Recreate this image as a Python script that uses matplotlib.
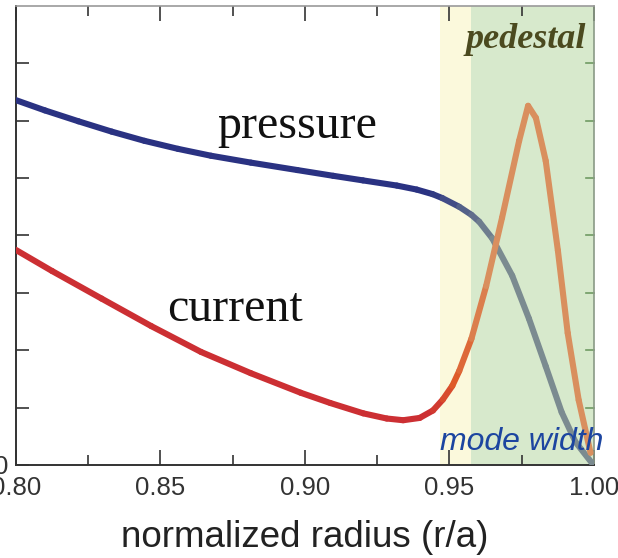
import numpy as np
import matplotlib
matplotlib.use("Agg")
import matplotlib.pyplot as plt
from matplotlib.collections import LineCollection
from matplotlib.colors import to_rgb

# values (y in arbitrary units, 0..8)
pressure_x = [0.8000, 0.8101, 0.8217, 0.8332, 0.8445, 0.8561, 0.8675, 0.8813,
              0.8974, 0.9098, 0.9201, 0.9318, 0.9387, 0.9442, 0.9476, 0.9534,
              0.9576, 0.9603, 0.9648, 0.9717, 0.9775, 0.9833, 0.9888, 0.9936, 0.9995]
pressure_y = [6.36, 6.18, 5.99, 5.81, 5.65, 5.51, 5.39, 5.27,
              5.14, 5.04, 4.96, 4.87, 4.80, 4.72, 4.65, 4.50,
              4.36, 4.24, 3.95, 3.30, 2.55, 1.72, 0.92, 0.40, 0.02]

current_x = [0.8000, 0.8126, 0.8297, 0.8469, 0.8641, 0.8813, 0.8985, 0.9088,
             0.9202, 0.9283, 0.9340, 0.9397, 0.9443, 0.9477, 0.9510, 0.9534,
             0.9576, 0.9627, 0.9682, 0.9741, 0.9772, 0.9799, 0.9833, 0.9875,
             0.9909, 0.9947, 0.9988]
current_y = [3.75, 3.38, 2.90, 2.42, 1.97, 1.60, 1.26, 1.08,
             0.90, 0.81, 0.78, 0.82, 0.95, 1.14, 1.38, 1.64,
             2.20, 3.12, 4.31, 5.65, 6.26, 6.05, 5.30, 3.74,
             2.30, 1.13, 0.21]

xticks = [0.80, 0.85, 0.90, 0.95, 1.00]
xtick_labels = ["0.80", "0.85", "0.90", "0.95", "1.00"]
yticks = [1, 2, 3, 4, 5, 6, 7]

band_yellow = (0.9466, 0.9576)
band_green = (0.9576, 1.0)


def blend(c1, c2, t):
    a, b = np.array(to_rgb(c1)), np.array(to_rgb(c2))
    return tuple(a + (b - a) * min(max(t, 0), 1))


def gradient_line(ax, xs, ys, stops, lw):
    # stops: list of (x, color); colour per segment from its midpoint
    pts = np.column_stack([xs, ys]).reshape(-1, 1, 2)
    segs = np.concatenate([pts[:-1], pts[1:]], axis=1)
    cols = []
    for s in segs:
        xm = s[:, 0].mean()
        col = stops[-1][1]
        for (x0, c0), (x1, c1) in zip(stops[:-1], stops[1:]):
            if xm <= x1:
                col = blend(c0, c1, (xm - x0) / (x1 - x0))
                break
        cols.append(col)
    lc = LineCollection(segs, colors=cols, linewidths=lw, capstyle="round",
                        joinstyle="round", zorder=3)
    ax.add_collection(lc)


fig = plt.figure(figsize=(6.18, 5.58), dpi=100)
ax = fig.add_axes([0.0254, 0.1667, 0.9358, 0.8226])

ax.axvspan(*band_yellow, color="#fbf9dc", lw=0, zorder=0)
ax.axvspan(*band_green, color="#d7e9cc", lw=0, zorder=0)

gradient_line(ax, pressure_x, pressure_y,
              [(0.800, "#2a3282"), (0.944, "#2a3282"), (0.966, "#7b8b90"), (1.0, "#7b8b90")], 4.4)
gradient_line(ax, current_x, current_y,
              [(0.800, "#cc2f33"), (0.944, "#cc2f33"), (0.952, "#de5a28"),
               (0.964, "#d98f5e"), (1.0, "#d98f5e")], 4.4)

ax.set_xlim(0.80, 1.00)
ax.set_ylim(0, 8)

ax.set_xticks(xticks)
ax.set_xticklabels(xtick_labels, fontsize=18.5, family="Liberation Sans", color="#333333")
ax.set_xticks(np.arange(0.825, 1.0, 0.05), minor=True)
ax.set_yticks([0] + yticks)
ax.set_yticklabels(["0"] + [""] * len(yticks), fontsize=18.5, family="Liberation Sans",
                   color="#333333")

ax.tick_params(axis="x", which="major", direction="in", length=11, width=1.2, color="#333333",
               top=True, pad=8)
ax.tick_params(axis="x", which="minor", direction="in", length=7, width=1.2, color="#333333",
               top=True)
ax.tick_params(axis="y", direction="in", length=9, width=1.2, color="#333333", pad=5.5,
               right=False)

for side in ["left", "bottom"]:
    ax.spines[side].set_color("#333333")
    ax.spines[side].set_linewidth(1.4)
ax.spines["top"].set_color("#9a9a9a")
ax.spines["right"].set_color("#8a9a86")
ax.spines["top"].set_linewidth(1.2)
ax.spines["right"].set_linewidth(1.2)

# green ticks on the right edge
for yv in yticks:
    ax.plot([0.9972, 1.0], [yv, yv], color="#6f9a63", lw=1.2, zorder=2, clip_on=False)

ax.set_xlabel("normalized radius (r/a)", fontsize=26.5, family="Liberation Sans",
              color="#222222", labelpad=14)

ax.text(0.8975, 5.9, "pressure", fontsize=34.5, family="Liberation Serif", color="#111111",
        ha="center", va="center")
ax.text(0.876, 2.72, "current", fontsize=34.5, family="Liberation Serif", color="#111111",
        ha="center", va="center")
ax.text(0.9972, 7.42, "pedestal", fontsize=26, family="Liberation Serif", style="italic",
        weight="bold", color="#4b4a1f", ha="right", va="center")
ax.text(0.9466, 0.4, "mode width", fontsize=23, family="Liberation Sans", style="italic",
        color="#1c45a0", ha="left", va="center", zorder=4)

fig.savefig("out.png", dpi=100)
